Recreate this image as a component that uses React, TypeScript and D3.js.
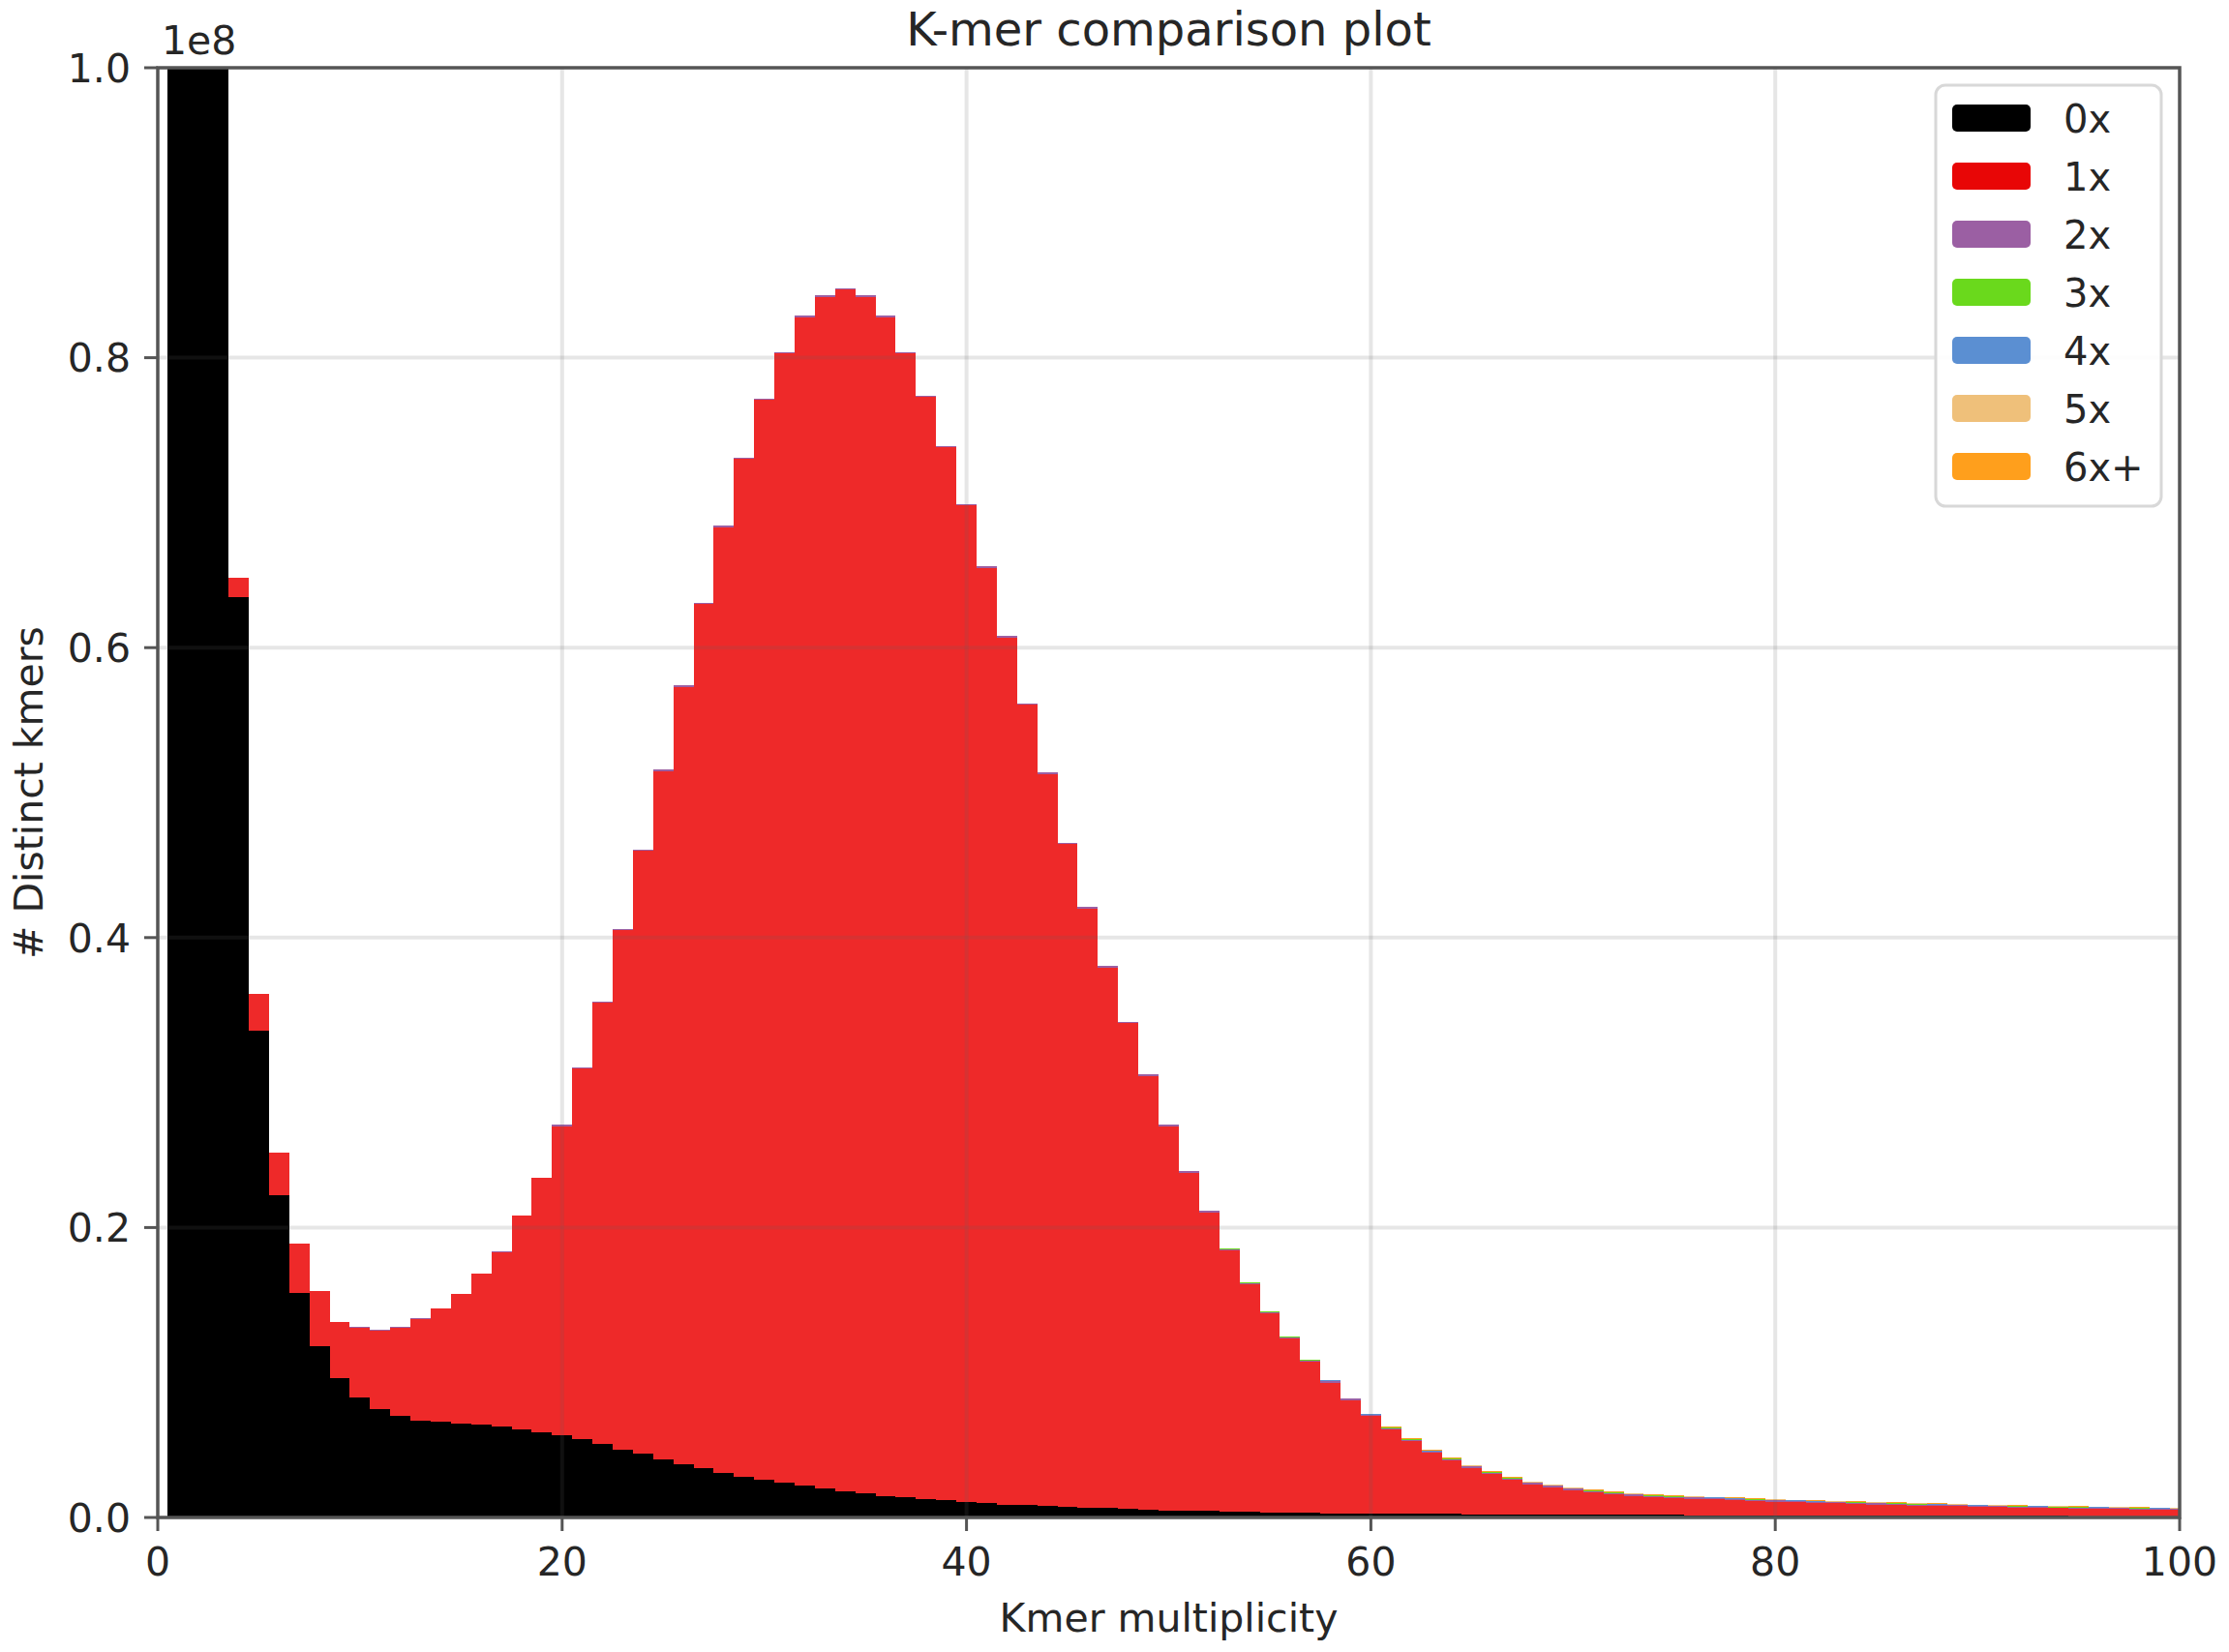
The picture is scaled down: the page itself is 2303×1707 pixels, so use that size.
import React from 'react';
import * as d3 from 'd3';

// KAT spectra-cn: distinct k-mers (in units of 1e8) per multiplicity bin, split by copy number in the assembly
const multiplicity = d3.range(0, 101);

const zeroX = [
  0, 4.6, 2.1, 1.12, 0.635, 0.336, 0.222, 0.155, 0.118, 0.096,
  0.083, 0.075, 0.07, 0.067, 0.066, 0.065, 0.064, 0.063, 0.061, 0.059,
  0.057, 0.054, 0.051, 0.047, 0.044, 0.04, 0.037, 0.034, 0.031, 0.028,
  0.026, 0.024, 0.022, 0.02, 0.018, 0.017, 0.015, 0.014, 0.013, 0.012,
  0.011, 0.01, 0.009, 0.0085, 0.008, 0.0075, 0.007, 0.0065, 0.006, 0.0055,
  0.005, 0.0047, 0.0044, 0.0041, 0.0038, 0.0036, 0.0034, 0.0032, 0.003, 0.0029,
  0.0028, 0.0027, 0.0026, 0.0025, 0.0024, 0.0023, 0.0022, 0.0021, 0.002, 0.002,
  0.0019, 0.0019, 0.0018, 0.0018, 0.0017, 0.0017, 0.0016, 0.0016, 0.0015, 0.0015,
  0.0015, 0.0014, 0.0014, 0.0014, 0.0013, 0.0013, 0.0013, 0.0012, 0.0012, 0.0012,
  0.0012, 0.0011, 0.0011, 0.0011, 0.0011, 0.001, 0.001, 0.001, 0.001, 0.001,
  0.001,
];

const oneX = [
  0, 0.012, 0.01, 0.012, 0.013, 0.025, 0.03, 0.034, 0.038, 0.039,
  0.048, 0.054, 0.061, 0.07, 0.078, 0.089, 0.104, 0.12, 0.147, 0.175,
  0.213, 0.256, 0.304, 0.358, 0.416, 0.475, 0.536, 0.596, 0.652, 0.702,
  0.745, 0.779, 0.806, 0.822, 0.829, 0.825, 0.813, 0.789, 0.76, 0.726,
  0.687, 0.645, 0.598, 0.552, 0.505, 0.457, 0.413, 0.373, 0.335, 0.299,
  0.265, 0.233, 0.206, 0.18, 0.157, 0.137, 0.12, 0.104, 0.09, 0.078,
  0.067, 0.058, 0.05, 0.042, 0.037, 0.032, 0.028, 0.024, 0.021, 0.019,
  0.017, 0.0156, 0.0142, 0.0132, 0.0123, 0.0118, 0.0114, 0.0109, 0.0105, 0.01,
  0.0095, 0.0091, 0.0086, 0.0083, 0.0081, 0.0077, 0.0074, 0.0071, 0.0068, 0.0065,
  0.0062, 0.006, 0.0057, 0.0055, 0.0053, 0.0052, 0.005, 0.0048, 0.0046, 0.0044,
  0.0042,
];

// the higher copy numbers are only a thin film on top; each list starts at the given bin
const twoXFrom = 10;
const twoX = [
  0.0002, 0.0002, 0.0003, 0.0003, 0.0004, 0.0004, 0.0005, 0.0005, 0.0006, 0.0006,
  0.0007, 0.0007, 0.0008, 0.0008, 0.0008, 0.0009, 0.0009, 0.0009, 0.001, 0.001,
  0.001, 0.001, 0.001, 0.001, 0.001, 0.001, 0.001, 0.001, 0.001, 0.001,
  0.001, 0.001, 0.001, 0.001, 0.001, 0.0011, 0.0011, 0.0011, 0.0011, 0.0011,
  0.0011, 0.0011, 0.0011, 0.0011, 0.001, 0.001, 0.001, 0.001, 0.001, 0.001,
  0.0009, 0.0009, 0.0009, 0.0009, 0.0009, 0.0008, 0.0008, 0.0008, 0.0008, 0.0008,
  0.0008, 0.0008, 0.0008, 0.0008, 0.0008, 0.0007, 0.0007, 0.0007, 0.0007, 0.0007,
  0.0007, 0.0007, 0.0007, 0.0007, 0.0007, 0.0007, 0.0007, 0.0007, 0.0007, 0.0007,
  0.0006, 0.0006, 0.0006, 0.0006, 0.0006, 0.0006, 0.0006, 0.0006, 0.0006, 0.0006,
  0.0006,
];
const threeXFrom = 50;
const threeX = [
  0.0002, 0.0002, 0.0002, 0.0002, 0.0002, 0.0003, 0.0003, 0.0003, 0.0003, 0.0003,
  0.0003, 0.0003, 0.0003, 0.0003, 0.0003, 0.0003, 0.0003, 0.0003, 0.0003, 0.0003,
  0.0003, 0.0003, 0.0003, 0.0003, 0.0003, 0.0003, 0.0003, 0.0003, 0.0003, 0.0003,
  0.0003, 0.0003, 0.0003, 0.0003, 0.0003, 0.0003, 0.0003, 0.0003, 0.0003, 0.0003,
  0.0003, 0.0003, 0.0003, 0.0003, 0.0003, 0.0003, 0.0003, 0.0003, 0.0003, 0.0003,
  0.0003,
];
const fourXFrom = 55;
const fourX = [
  0.0002, 0.0002, 0.0002, 0.0002, 0.0002, 0.0002, 0.0002, 0.0002, 0.0002, 0.0002,
  0.0002, 0.0002, 0.0002, 0.0002, 0.0002, 0.0002, 0.0002, 0.0002, 0.0002, 0.0002,
  0.0002, 0.0002, 0.0002, 0.0002, 0.0002, 0.0002, 0.0002, 0.0002, 0.0002, 0.0002,
  0.0002, 0.0002, 0.0002, 0.0002, 0.0002, 0.0002, 0.0002, 0.0002, 0.0002, 0.0002,
  0.0002, 0.0002, 0.0002, 0.0002, 0.0002, 0.0002,
];
const fiveXFrom = 60;
const fiveX = [
  0.0002, 0.0002, 0.0002, 0.0002, 0.0002, 0.0002, 0.0002, 0.0002, 0.0002, 0.0002,
  0.0002, 0.0002, 0.0002, 0.0002, 0.0002, 0.0002, 0.0002, 0.0002, 0.0002, 0.0002,
  0.0002, 0.0002, 0.0002, 0.0002, 0.0002, 0.0002, 0.0002, 0.0002, 0.0002, 0.0002,
  0.0002, 0.0002, 0.0002, 0.0002, 0.0002, 0.0002, 0.0002, 0.0002, 0.0002, 0.0002,
  0.0002,
];
const sixXFrom = 60;
const sixX = [
  0.0003, 0.0003, 0.0003, 0.0003, 0.0003, 0.0003, 0.0003, 0.0003, 0.0003, 0.0003,
  0.0003, 0.0003, 0.0003, 0.0003, 0.0003, 0.0003, 0.0003, 0.0003, 0.0003, 0.0003,
  0.0003, 0.0003, 0.0003, 0.0003, 0.0003, 0.0003, 0.0003, 0.0003, 0.0003, 0.0003,
  0.0003, 0.0003, 0.0003, 0.0003, 0.0003, 0.0003, 0.0003, 0.0003, 0.0003, 0.0003,
  0.0003,
];

const seriesNames = ['0x', '1x', '2x', '3x', '4x', '5x', '6x+'];
const fillColors = ['#000000', '#ee2929', '#9b5fa3', '#6ad91c', '#5b8fd2', '#efc07a', '#ff9f1c'];
const legendColors = ['#000000', '#e80606', '#9b5fa3', '#6ad91c', '#5b8fd2', '#efc07a', '#ff9f1c'];

const xTicks = [0, 20, 40, 60, 80, 100];
const yTicks = [0, 0.2, 0.4, 0.6, 0.8, 1.0];

const W = 2303;
const H = 1707;
const plot = { left: 163, right: 2252, top: 70, bottom: 1568 };
const FONT = 'DejaVu Sans, sans-serif';

const at = (arr: number[], from: number, k: number) => (k >= from && k - from < arr.length ? arr[k - from] : 0);

const rows = multiplicity.map((k) => ({
  k,
  '0x': zeroX[k],
  '1x': oneX[k],
  '2x': at(twoX, twoXFrom, k),
  '3x': at(threeX, threeXFrom, k),
  '4x': at(fourX, fourXFrom, k),
  '5x': at(fiveX, fiveXFrom, k),
  '6x+': at(sixX, sixXFrom, k),
}));

export default function App() {
  const x = d3.scaleLinear().domain([0, 100]).range([plot.left, plot.right]);
  const y = d3.scaleLinear().domain([0, 1]).range([plot.bottom, plot.top]);

  const layers = d3.stack<any>().keys(seriesNames)(rows);

  // bars of width 1 centred on each multiplicity -> step curve
  const area = d3
    .area<any>()
    .x((d) => x(d.data.k))
    .y0((d) => y(d[0]))
    .y1((d) => y(d[1]))
    .curve(d3.curveStep);

  const fmt = d3.format('.1f');
  const gridColor = 'rgba(100,100,100,0.16)';
  const axisColor = '#555';
  const textColor = '#262626';

  return (
    <svg width={W} height={H} style={{ position: 'absolute', left: 0, top: 0, background: '#fff' }}>
      <defs>
        <clipPath id="plot-clip">
          <rect x={plot.left} y={plot.top} width={plot.right - plot.left} height={plot.bottom - plot.top} />
        </clipPath>
      </defs>
      <rect width={W} height={H} fill="#fff" />

      <g clipPath="url(#plot-clip)">
        {layers.map((layer, i) => (
          <path key={layer.key} d={area(layer) || ''} fill={fillColors[i]} shapeRendering="crispEdges" />
        ))}
      </g>

      {/* grid drawn over the bars */}
      <g>
        {xTicks.slice(1, -1).map((t) => (
          <line key={'gx' + t} x1={x(t)} x2={x(t)} y1={plot.top} y2={plot.bottom} stroke={gridColor} strokeWidth={4} />
        ))}
        {yTicks.slice(1, -1).map((t) => (
          <line key={'gy' + t} x1={plot.left} x2={plot.right} y1={y(t)} y2={y(t)} stroke={gridColor} strokeWidth={4} />
        ))}
      </g>

      {/* frame */}
      <rect
        x={plot.left}
        y={plot.top}
        width={plot.right - plot.left}
        height={plot.bottom - plot.top}
        fill="none"
        stroke={axisColor}
        strokeWidth={3.5}
      />

      {/* x axis */}
      <g fontFamily={FONT} fontSize={41} fill={textColor}>
        {xTicks.map((t) => (
          <g key={'xt' + t}>
            <line x1={x(t)} x2={x(t)} y1={plot.bottom} y2={plot.bottom + 14} stroke={axisColor} strokeWidth={3} />
            <text x={x(t)} y={1628} textAnchor="middle">
              {t}
            </text>
          </g>
        ))}
        <text x={(plot.left + plot.right) / 2} y={1686} textAnchor="middle">
          Kmer multiplicity
        </text>
      </g>

      {/* y axis */}
      <g fontFamily={FONT} fontSize={41} fill={textColor}>
        {yTicks.map((t) => (
          <g key={'yt' + t}>
            <line x1={plot.left - 14} x2={plot.left} y1={y(t)} y2={y(t)} stroke={axisColor} strokeWidth={3} />
            <text x={plot.left - 28} y={y(t)} dy="0.36em" textAnchor="end">
              {fmt(t)}
            </text>
          </g>
        ))}
        <text x={167} y={56}>
          1e8
        </text>
        <text transform={`translate(44,${(plot.top + plot.bottom) / 2}) rotate(-90)`} textAnchor="middle">
          # Distinct kmers
        </text>
      </g>

      <text x={(plot.left + plot.right) / 2} y={47} textAnchor="middle" fontFamily={FONT} fontSize={48} fill={textColor}>
        K-mer comparison plot
      </text>

      {/* legend */}
      <g fontFamily={FONT} fontSize={40} fill={textColor}>
        <rect x={2000} y={88} width={233} height={435} rx={10} fill="#fff" fillOpacity={0.92} stroke="#d8d8d8" strokeWidth={3} />
        {seriesNames.map((name, i) => (
          <g key={name} transform={`translate(0,${122 + i * 60})`}>
            <rect x={2017} y={-14} width={81} height={28} rx={5} fill={legendColors[i]} />
            <text x={2132} y={15}>
              {name}
            </text>
          </g>
        ))}
      </g>
    </svg>
  );
}
